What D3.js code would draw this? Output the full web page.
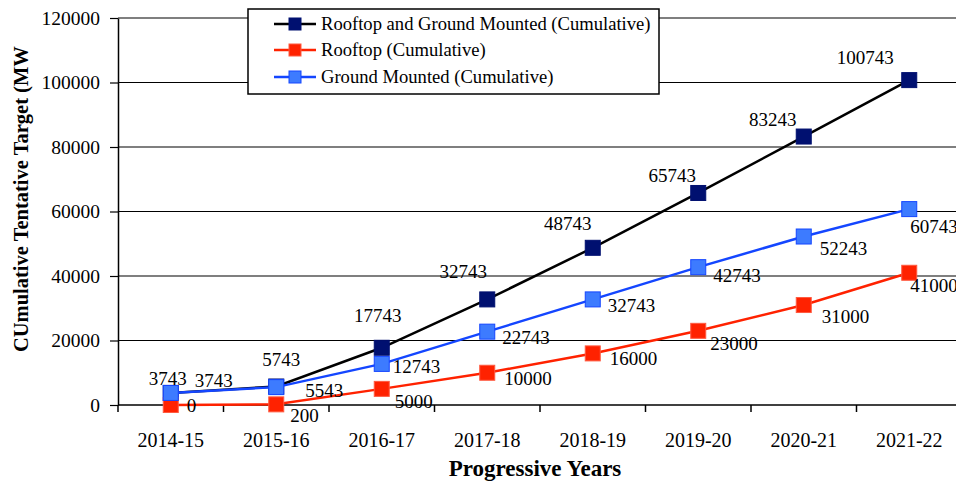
<!DOCTYPE html>
<html lang="en">
<head>
<meta charset="utf-8">
<title>Cumulative Tentative Target</title>
<script src="https://d3js.org/d3.v7.min.js"></script>
<style>
  body { margin: 0; background: #fff; }
  svg text { font-family: "Liberation Serif", "Times New Roman", Times, "DejaVu Serif", serif !important; fill: #000; }
</style>
</head>
<body>
<script>
// data
const years = ["2014-15", "2015-16", "2016-17", "2017-18", "2018-19", "2019-20", "2020-21", "2021-22"];
const total = [3743, 5743, 17743, 32743, 48743, 65743, 83243, 100743];
const rooftop = [0, 200, 5000, 10000, 16000, 23000, 31000, 41000];
const ground = [3743, 5543, 12743, 22743, 32743, 42743, 52243, 60743];
const yTicks = [0, 20000, 40000, 60000, 80000, 100000, 120000];

// label nudges (px) - labels were hand placed in the original
const totalNudge = [[-3, -8], [5, -20], [-4, -26], [-24, -21], [-25, -18], [-26, -11], [-31, -11], [-44, -16]];
const rooftopNudge = [[16, 7], [14, 18], [13, 19], [17, 12], [17, 12], [12, 19], [18, 18], [1, 19]];
const groundNudge = [[24, -6], [29, 10], [11, 9], [15, 12], [15, 13], [15, 15], [16, 18], [1, 24]];

const w = 956, h = 481;
const plotLeft = 118, plotBottom = 405, plotTop = 18;
const band = 105.5;

const svg = d3.select("body").append("svg")
  .attr("width", w).attr("height", h);

const x = d3.scaleBand()
  .domain(years)
  .range([plotLeft, plotLeft + band * years.length])
  .padding(0);

const y = d3.scaleLinear()
  .domain([0, 120000])
  .range([plotBottom, plotTop]);

const cx = d => x(d) + x.bandwidth() / 2;

// gridlines
svg.append("g")
  .selectAll("line")
  .data(yTicks.filter(d => d > 0))
  .enter().append("line")
  .attr("x1", plotLeft).attr("x2", w)
  .attr("y1", d => y(d)).attr("y2", d => y(d))
  .attr("stroke", "#000").attr("stroke-width", 1.2);

// y axis
const yAxis = svg.append("g")
  .attr("transform", "translate(" + plotLeft + ",0)")
  .call(d3.axisLeft(y).tickValues(yTicks).tickSize(8).tickSizeOuter(0).tickPadding(10).tickFormat(d3.format("d")));
yAxis.select(".domain").attr("stroke", "#000").attr("stroke-width", 1.5);
yAxis.selectAll(".tick line").attr("stroke", "#000").attr("stroke-width", 1.2);
yAxis.selectAll("text").attr("font-size", "19.5px");

// x axis line + boundary ticks
svg.append("line")
  .attr("x1", plotLeft).attr("x2", w)
  .attr("y1", plotBottom).attr("y2", plotBottom)
  .attr("stroke", "#000").attr("stroke-width", 1.5);

svg.append("g")
  .selectAll("line")
  .data(years)
  .enter().append("line")
  .attr("x1", d => x(d)).attr("x2", d => x(d))
  .attr("y1", plotBottom).attr("y2", plotBottom + 7)
  .attr("stroke", "#000").attr("stroke-width", 1.5);

svg.append("g")
  .selectAll("text")
  .data(years)
  .enter().append("text")
  .attr("x", d => cx(d))
  .attr("y", 447)
  .attr("text-anchor", "middle")
  .attr("font-size", "20px")
  .text(d => d);

// axis titles
svg.append("text")
  .attr("x", 535).attr("y", 476)
  .attr("text-anchor", "middle")
  .attr("font-size", "23px").attr("font-weight", "bold")
  .text("Progressive Years");

svg.append("text")
  .attr("transform", "translate(28,352) rotate(-90)")
  .attr("text-anchor", "start")
  .attr("font-size", "20.5px").attr("font-weight", "bold")
  .text("CUmulative Tentative Target (MW");

// series
const series = [
  { name: "Rooftop and Ground Mounted (Cumulative)", values: total, nudge: totalNudge, anchor: "middle",
    line: "#000000", fill: "#001070", edge: "#001070" },
  { name: "Rooftop (Cumulative)", values: rooftop, nudge: rooftopNudge, anchor: "start",
    line: "#ff2200", fill: "#ff2200", edge: "#ff5a40" },
  { name: "Ground Mounted (Cumulative)", values: ground, nudge: groundNudge, anchor: "start",
    line: "#1446ff", fill: "#3d7bff", edge: "#1446ff" }
];

const line = d3.line()
  .x((d, i) => cx(years[i]))
  .y(d => y(d));

const m = 15;

series.forEach(function(s) {
  svg.append("path")
    .datum(s.values)
    .attr("d", line)
    .attr("fill", "none")
    .attr("stroke", s.line)
    .attr("stroke-width", 2.5);

  svg.append("g")
    .selectAll("rect")
    .data(s.values)
    .enter().append("rect")
    .attr("x", (d, i) => cx(years[i]) - m / 2)
    .attr("y", d => y(d) - m / 2)
    .attr("width", m).attr("height", m)
    .attr("fill", s.fill)
    .attr("stroke", s.edge).attr("stroke-width", 1);
});

// data labels
series.forEach(function(s) {
  svg.append("g")
    .selectAll("text")
    .data(s.values)
    .enter().append("text")
    .attr("x", (d, i) => cx(years[i]) + s.nudge[i][0])
    .attr("y", (d, i) => y(d) + s.nudge[i][1])
    .attr("text-anchor", s.anchor)
    .attr("font-size", "19px")
    .text(d => d);
});

// legend
const lg = svg.append("g");
lg.append("rect")
  .attr("x", 248).attr("y", 9)
  .attr("width", 411).attr("height", 85)
  .attr("fill", "#fff")
  .attr("stroke", "#000").attr("stroke-width", 1.5);

const rowY = [24, 50, 77];
series.forEach(function(s, i) {
  lg.append("line")
    .attr("x1", 274).attr("x2", 316)
    .attr("y1", rowY[i]).attr("y2", rowY[i])
    .attr("stroke", s.line).attr("stroke-width", 2.5);
  lg.append("rect")
    .attr("x", 295 - 6).attr("y", rowY[i] - 6)
    .attr("width", 12).attr("height", 12)
    .attr("fill", s.fill)
    .attr("stroke", s.edge).attr("stroke-width", 1);
  lg.append("text")
    .attr("x", 321).attr("y", rowY[i] + 6)
    .attr("font-size", "18.6px")
    .text(s.name);
});
</script>
</body>
</html>
